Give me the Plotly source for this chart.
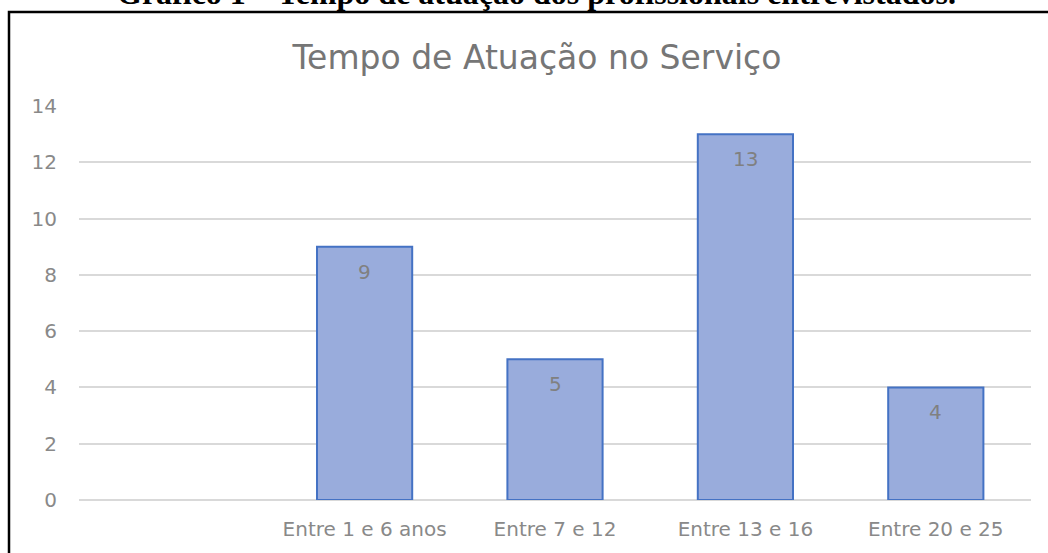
import plotly.graph_objects as go

categories = ["", "Entre 1 e 6 anos", "Entre 7 e 12", "Entre 13 e 16", "Entre 20 e 25"]
values = [None, 9, 5, 13, 4]
labels = ["", "9", "5", "13", "4"]
y_ticks = [0, 2, 4, 6, 8, 10, 12, 14]

W, H = 1048, 553
L, R, T, B = 79, 17, 106, 53
pw, ph = W - L - R, H - T - B

def px(x):
    return (x - L) / pw

def py(y):
    return (H - B - y) / ph

FONT = "DejaVu Sans"

fig = go.Figure()
fig.add_trace(go.Bar(
    x=list(range(len(categories))),
    y=values,
    width=0.5,
    marker=dict(color="#99acdc", line=dict(color="#4472c4", width=2)),
    hoverinfo="x+y",
))

label_annotations = [
    dict(x=i, y=v, xref="x", yref="y", text=t, showarrow=False,
         yshift=-25, xanchor="center", yanchor="middle",
         font=dict(family=FONT, size=20, color="#808080"))
    for i, (v, t) in enumerate(zip(values, labels)) if v is not None
]

caption = dict(text="<b>Gráfico 1 – Tempo de atuação dos profissionais entrevistados.</b>",
               xref="paper", yref="paper", x=px(536), y=py(-7), xanchor="center", yanchor="middle",
               showarrow=False, font=dict(family="Liberation Serif", size=32, color="black"))

fig.update_layout(
    width=W, height=H,
    margin=dict(l=L, r=R, t=T, b=B),
    paper_bgcolor="white", plot_bgcolor="white",
    showlegend=False,
    title=dict(text="Tempo de Atuação no Serviço", x=px(537), xref="paper", xanchor="center",
               y=1 - 57 / H, yref="container", yanchor="middle",
               font=dict(family=FONT, size=33, color="#767676")),
    font=dict(family=FONT, color="#898989"),
    xaxis=dict(
        range=[-0.5, 4.5],
        tickmode="array", tickvals=list(range(len(categories))), ticktext=categories,
        showgrid=False, zeroline=False, showline=False, ticks="",
        tickfont=dict(family=FONT, size=20, color="#898989"),
        ticklabelstandoff=15,
    ),
    yaxis=dict(
        range=[0, 14], tickvals=y_ticks,
        showgrid=True, gridcolor="#d9d9d9", gridwidth=1.5,
        zeroline=True, zerolinecolor="#d9d9d9", zerolinewidth=1.5,
        showline=False, ticks="",
        tickfont=dict(family=FONT, size=20, color="#898989"),
        ticklabelstandoff=21,
    ),
    shapes=[dict(type="rect", xref="paper", yref="paper",
                 x0=px(9), x1=px(1070), y0=py(580), y1=py(12),
                 line=dict(color="black", width=2.5), fillcolor="rgba(0,0,0,0)", layer="below")],
    annotations=label_annotations + [caption],
)

fig.write_html("out.html", config={"displayModeBar": False},
               post_script="document.body.style.margin='0';document.body.style.overflow='hidden';")
